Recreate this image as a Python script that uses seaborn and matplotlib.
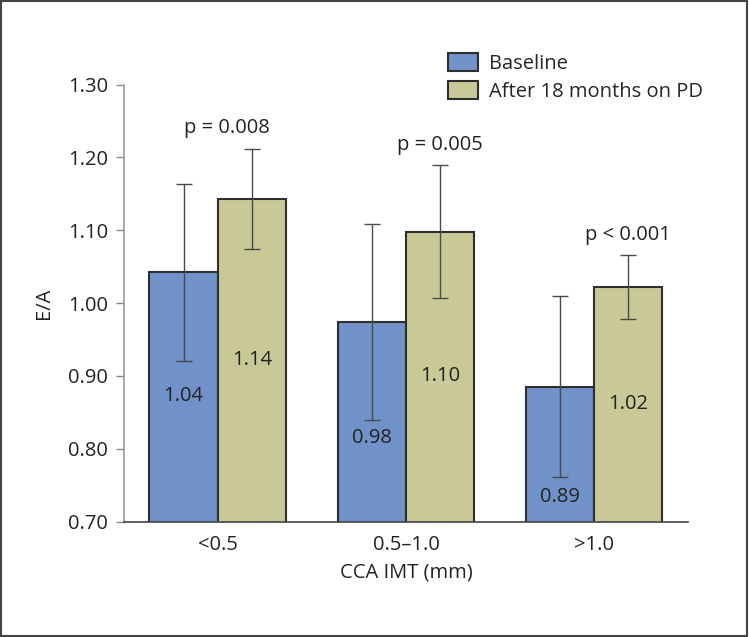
import numpy as np
import pandas as pd
import matplotlib
matplotlib.use("Agg")
import matplotlib.pyplot as plt
from matplotlib.patches import Patch, Rectangle
import seaborn as sns

# data
categories = ['<0.5', '0.5\u20131.0', '>1.0']
groups = ['Baseline', 'After 18 months on PD']
baseline = [1.042, 0.974, 0.885]
after = [1.143, 1.098, 1.022]
baseline_err = [0.121, 0.135, 0.124]
after_err = [0.069, 0.091, 0.044]
baseline_labels = ['1.04', '0.98', '0.89']
after_labels = ['1.14', '1.10', '1.02']
p_labels = ['p = 0.008', 'p = 0.005', 'p < 0.001']

colors = ['#7092c9', '#c9c998']
edge = '#2e2e2e'

sns.set_style("white")
plt.rcParams['font.family'] = ['Open Sans', 'DejaVu Sans']
plt.rcParams['font.size'] = 14.5

df = pd.DataFrame({
    'CCA IMT (mm)': categories * 2,
    'group': [groups[0]] * 3 + [groups[1]] * 3,
    'E/A': baseline + after,
})

fig = plt.figure(figsize=(7.49, 6.37), dpi=100)
ax = fig.add_axes([0.165, 0.1813, 0.754, 0.686])

sns.barplot(data=df, x='CCA IMT (mm)', y='E/A', hue='group', order=categories,
            hue_order=groups, palette=colors, saturation=1, width=0.725, errorbar=None,
            edgecolor=edge, linewidth=1.5, ax=ax, legend=False)

# bars -> positions, then error bars from the sd values
bars = [p for p in ax.patches if isinstance(p, Rectangle) and p.get_height() > 0]
bars = sorted(bars, key=lambda p: p.get_x())
xc = np.array([b.get_x() + b.get_width() / 2 for b in bars])
vals = []
errs = []
txts = []
for i in range(3):
    vals += [baseline[i], after[i]]
    errs += [baseline_err[i], after_err[i]]
    txts += [baseline_labels[i], after_labels[i]]
ax.errorbar(xc, vals, yerr=errs, fmt='none', ecolor='#4a4a4a', elinewidth=1,
            capsize=6, capthick=1, zorder=5)

# value labels inside the bars
label_y = [0.872, 0.922, 0.814, 0.900, 0.734, 0.862]
for x, y, t in zip(xc, label_y, txts):
    ax.text(x, y, t, ha='center', va='center', color='#222222', zorder=6)

# p values above each group
p_x = [xc[1] - 0.13, xc[3], xc[5]]
p_y = [1.240, 1.217, 1.094]
for x, y, t in zip(p_x, p_y, p_labels):
    ax.text(x, y, t, ha='center', va='center', color='#222222')

ax.set_xlim(-0.5, 2.5)
ax.set_ylim(0.70, 1.30)
ax.set_yticks(np.arange(0.70, 1.301, 0.10))
ax.set_yticklabels(['%.2f' % v for v in np.arange(0.70, 1.301, 0.10)])
ax.set_xticks([0, 1, 2])
ax.set_xticklabels(categories)
ax.set_xticks([-0.5, 0.5, 1.5, 2.5], minor=True)
ax.tick_params(axis='x', which='major', length=0, pad=10, colors='#222222')
ax.tick_params(axis='x', which='minor', length=8, width=1, color='#555555', direction='out')
ax.tick_params(axis='y', length=6, width=1, pad=5, colors='#222222',
               direction='out', left=True)
ax.tick_params(axis='y', which='major', color='#888888')

for s in ['top', 'right']:
    ax.spines[s].set_visible(False)
ax.spines['left'].set_color('#999999')
ax.spines['left'].set_linewidth(1.2)
ax.spines['bottom'].set_color('#444444')
ax.spines['bottom'].set_linewidth(1.2)

ax.set_xlabel('CCA IMT (mm)', color='#222222', labelpad=5)
ax.set_ylabel('E/A', color='#222222', labelpad=10)

handles = [Patch(facecolor=colors[0], edgecolor=edge, linewidth=1.5),
           Patch(facecolor=colors[1], edgecolor=edge, linewidth=1.5)]
fig.legend(handles, groups, loc='upper left', bbox_to_anchor=(0.587, 0.93),
           frameon=False, handlelength=1.5, handleheight=1.0, handletextpad=0.55,
           labelspacing=0.35, borderaxespad=0)

# thin frame around the whole picture
fig.patches.append(Rectangle((0.001, 0.001), 0.996, 0.998, transform=fig.transFigure,
                             fill=False, edgecolor='#444444', linewidth=1.5))

plt.savefig('out.png', dpi=100)
